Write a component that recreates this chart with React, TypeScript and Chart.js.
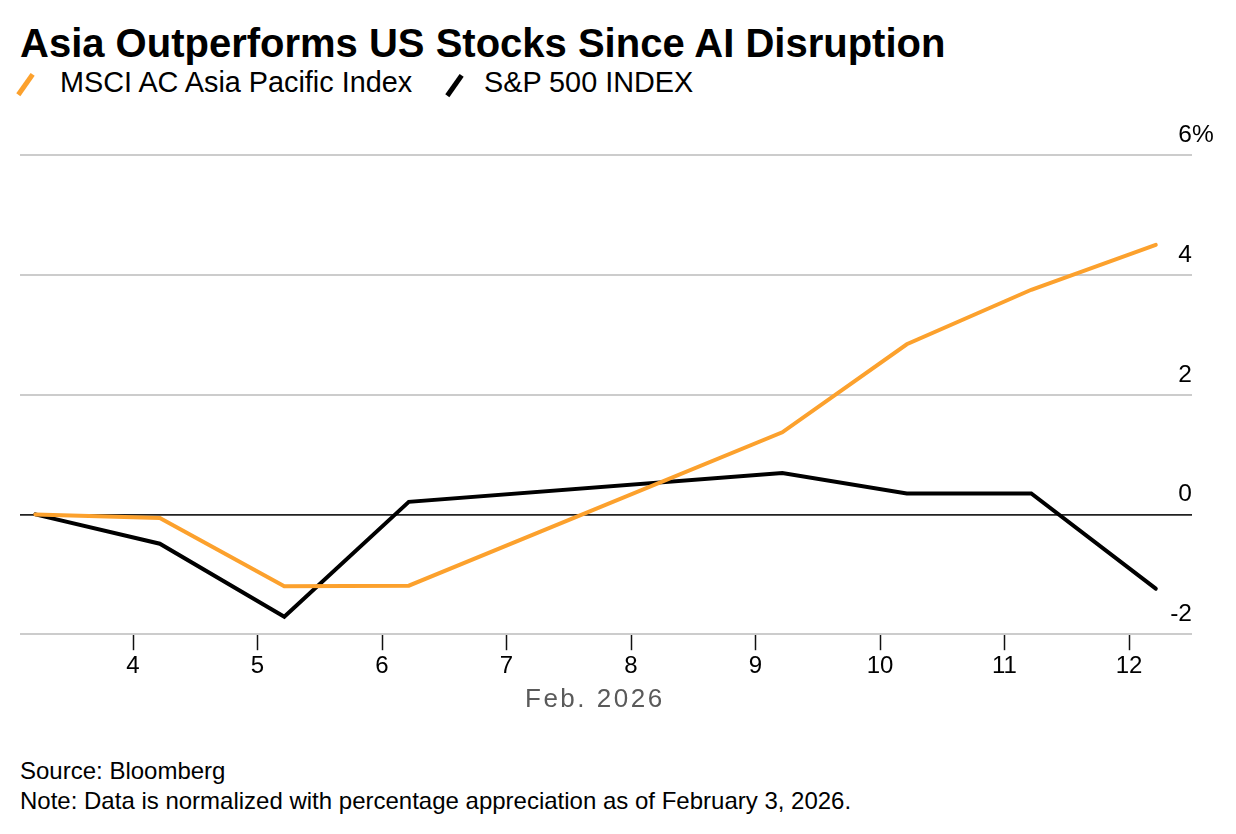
import React, { useEffect, useRef } from "react";
import { Chart, registerables } from "chart.js";

Chart.register(...registerables);

// ---- Data ----
const tradingDays = [3, 4, 5, 6, 9, 10, 11, 12]; // February 2026
const closeOffset = 0.215; // fraction of a day at which each close is stamped
const msciAsiaPacific = [0, -0.06, -1.2, -1.19, 1.37, 2.84, 3.75, 4.5];
const sp500 = [0, -0.49, -1.71, 0.21, 0.69, 0.35, 0.35, -1.24];
const xTickDays = [4, 5, 6, 7, 8, 9, 10, 11, 12];
const yTickValues = [-2, 0, 2, 4, 6];
const xRange = [3.092, 12.506];
const yRange = [-2, 6];

const FONT = '"Liberation Sans", Arial, Helvetica, sans-serif';
const ORANGE = "#FCA12D";

const yLabelPlugin = {
  id: "yLabelPlugin",
  afterDraw(chart: any) {
    const { ctx, chartArea } = chart;
    const y = chart.scales.y;
    ctx.save();
    ctx.font = `24.5px ${FONT}`;
    ctx.fillStyle = "#000";
    ctx.textBaseline = "alphabetic";
    y.ticks.forEach((t: any) => {
      const py = y.getPixelForValue(t.value);
      ctx.textAlign = "right";
      ctx.fillText(String(t.value), chartArea.right, py - 13);
      if (t.value === yRange[1]) {
        ctx.textAlign = "left";
        ctx.fillText("%", chartArea.right, py - 13);
      }
    });
    ctx.restore();
  },
};

function LineChart() {
  const ref = useRef<HTMLCanvasElement | null>(null);
  useEffect(() => {
    if (!ref.current) return;
    const chart = new Chart(ref.current, {
      type: "line",
      data: {
        datasets: [
          {
            label: "MSCI AC Asia Pacific Index",
            data: tradingDays.map((d, i) => ({ x: d + closeOffset, y: msciAsiaPacific[i] })),
            borderColor: ORANGE,
            borderWidth: 4,
            pointRadius: 0,
            tension: 0,
            borderJoinStyle: "miter",
            borderCapStyle: "round",
          },
          {
            label: "S&P 500 INDEX",
            data: tradingDays.map((d, i) => ({ x: d + closeOffset, y: sp500[i] })),
            borderColor: "#000",
            borderWidth: 4,
            pointRadius: 0,
            tension: 0,
            borderJoinStyle: "miter",
            borderCapStyle: "round",
          },
        ],
      },
      options: {
        animation: false,
        responsive: false,
        devicePixelRatio: 1,
        layout: { padding: { left: 12, right: 36, top: 45, bottom: 7 } },
        plugins: { legend: { display: false }, tooltip: { enabled: false }, title: { display: false } },
        scales: {
          x: {
            type: "linear",
            min: xRange[0],
            max: xRange[1],
            afterBuildTicks: (scale: any) => {
              scale.ticks = xTickDays.map((v) => ({ value: v }));
            },
            border: { display: false },
            grid: {
              display: true,
              drawOnChartArea: false,
              drawTicks: true,
              tickLength: 16,
              tickColor: "#111",
              tickWidth: 1.5,
            },
            ticks: {
              color: "#000",
              font: { family: FONT, size: 24 },
              padding: 2,
              maxRotation: 0,
              autoSkip: false,
              callback: (v: any) => String(v),
            },
          },
          y: {
            min: yRange[0],
            max: yRange[1],
            afterBuildTicks: (scale: any) => {
              scale.ticks = yTickValues.map((v) => ({ value: v }));
            },
            border: { display: false },
            grid: {
              drawTicks: false,
              color: (c: any) => (c.tick && c.tick.value === 0 ? "#222" : "#cccccc"),
              lineWidth: (c: any) => (c.tick && c.tick.value === 0 ? 1.8 : 2),
            },
            ticks: { display: false },
          },
        },
      },
      plugins: [yLabelPlugin],
    });
    return () => chart.destroy();
  }, []);
  return (
    <canvas
      ref={ref}
      width={1220}
      height={580}
      style={{ position: "absolute", left: 0, top: 102, width: 1220, height: 580 }}
    />
  );
}

function Marker({ left, top, color }: { left: number; top: number; color: string }) {
  return (
    <div
      style={{
        position: "absolute",
        left,
        top,
        width: 4.8,
        height: 25,
        background: color,
        transform: "rotate(35deg)",
      }}
    />
  );
}

export default function App() {
  return (
    <div style={{ position: "relative", width: 1220, height: 818, fontFamily: FONT, color: "#000" }}>
      <div
        style={{
          position: "absolute",
          left: 12,
          top: 15,
          fontSize: 40,
          lineHeight: "40px",
          fontWeight: 700,
          whiteSpace: "nowrap",
        }}
      >
        Asia Outperforms US Stocks Since AI Disruption
      </div>
      <Marker left={14.6} top={63.5} color={ORANGE} />
      <div style={{ position: "absolute", left: 52, top: 59.5, fontSize: 28.8, lineHeight: "29px", whiteSpace: "nowrap" }}>
        MSCI AC Asia Pacific Index
      </div>
      <Marker left={443.6} top={64.5} color="#000" />
      <div style={{ position: "absolute", left: 476, top: 59.5, fontSize: 28.8, lineHeight: "29px", whiteSpace: "nowrap" }}>
        S&amp;P 500 INDEX
      </div>
      <LineChart />
      <div
        style={{
          position: "absolute",
          left: 517,
          top: 677,
          fontSize: 26,
          lineHeight: "26px",
          letterSpacing: 2.5,
          color: "#5a5a5a",
          whiteSpace: "nowrap",
        }}
      >
        Feb. 2026
      </div>
      <div style={{ position: "absolute", left: 12, top: 751, fontSize: 24, lineHeight: "24px", whiteSpace: "nowrap" }}>
        Source: Bloomberg
      </div>
      <div style={{ position: "absolute", left: 12, top: 781, fontSize: 24, lineHeight: "24px", whiteSpace: "nowrap" }}>
        Note: Data is normalized with percentage appreciation as of February 3, 2026.
      </div>
    </div>
  );
}
